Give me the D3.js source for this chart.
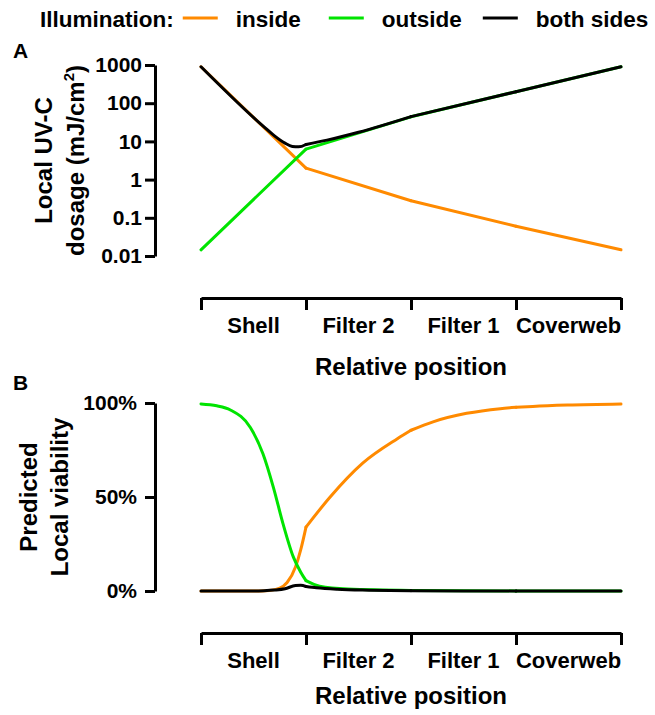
<!DOCTYPE html>
<html>
<head>
<meta charset="utf-8">
<script src="https://cdn.jsdelivr.net/npm/d3@7"></script>
<style>
  html, body { margin: 0; padding: 0; background: #fff; }
  svg { display: block; }
</style>
</head>
<body>
<script>
// ---------------- data ----------------
const categories = ["Shell", "Filter 2", "Filter 1", "Coverweb"];
const boundaryPositions = [0, 1, 2, 3, 4];

const legendTitle = "Illumination:";
const seriesNames = ["inside", "outside", "both sides"];
const seriesColors = ["#ff8a00", "#00e400", "#000000"];

const dosageTicks = [0.01, 0.1, 1, 10, 100, 1000];
const dosageTickLabels = ["0.01", "0.1", "1", "10", "100", "1000"];
const viabilityTicks = [0, 50, 100];
const viabilityTickLabels = ["0%", "50%", "100%"];

// Panel A: local UV-C dosage (mJ/cm2)
const doseInsidePos = [0, 1, 2, 3, 4];
const doseInside = [900, 2.0, 0.28, 0.06, 0.0145];
const doseOutsidePos = [0, 1, 2, 3, 4];
const doseOutside = [0.0145, 6.3, 44, 200, 900];
const doseBothPos = [0, 0.6, 0.7, 0.8, 0.87, 0.93, 1, 1.2, 1.5, 2, 3, 4];
const doseBoth = [900, 24, 14, 9, 7.4, 7.2, 8.3, 10.8, 17.3, 44.5, 200, 900];

// Panel B: predicted local viability (%)
const viaInsidePos = [0, 0.5, 0.65, 0.75, 0.82, 0.9, 0.95, 1, 1.23, 1.54, 1.87, 2, 2.21, 2.53, 2.85, 3, 3.16, 3.49, 4];
const viaInside = [0, 0, 0.3, 1.5, 4.5, 12.8, 22, 34, 50, 68, 81, 85.5, 90, 94.5, 97, 97.7, 98.2, 98.9, 99.5];
const viaOutsidePos = [0, 0.15, 0.28, 0.47, 0.59, 0.69, 0.78, 0.88, 0.95, 1, 1.13, 1.4, 2, 3, 4];
const viaOutside = [99.5, 98.5, 96.3, 87, 73, 55, 36, 18, 10, 5.5, 2.5, 1.0, 0.3, 0.05, 0];
const viaBothPos = [0, 0.5, 0.6, 0.7, 0.8, 0.9, 0.95, 1, 1.1, 1.3, 1.6, 2, 2.5, 3, 4];
const viaBoth = [0, 0, 0.15, 0.5, 1.2, 2.9, 3.0, 2.4, 1.7, 0.9, 0.4, 0.1, 0.02, 0, 0];

// ---------------- drawing ----------------
const W = 655, H = 715;
const FONT = "'Liberation Sans', Arial, Helvetica, sans-serif";

const svg = d3.select("body").append("svg")
  .attr("width", W).attr("height", H)
  .style("background", "#fff")
  .attr("font-family", FONT)
  .attr("font-weight", "bold");

// Legend
(function legend() {
  const g = svg.append("g");
  let x = 40;
  const yText = 27, yLine = 18, fs = 22.5;
  const t0 = g.append("text").attr("x", x).attr("y", yText).attr("font-size", fs).text(legendTitle);
  x += t0.node().getComputedTextLength() + 9;
  const gapsAfter = [28, 21, 0];
  seriesNames.forEach((name, i) => {
    g.append("line").attr("x1", x).attr("x2", x + 35).attr("y1", yLine).attr("y2", yLine)
      .attr("stroke", seriesColors[i]).attr("stroke-width", 3);
    x += 35 + 18;
    const t = g.append("text").attr("x", x).attr("y", yText).attr("font-size", fs).text(name);
    x += t.node().getComputedTextLength() + gapsAfter[i];
  });
})();

function styleAxis(g, fontSize) {
  g.select(".domain").attr("stroke", "#000").attr("stroke-width", 3);
  g.selectAll(".tick line").attr("stroke", "#000").attr("stroke-width", 3);
  g.selectAll(".tick text").attr("fill", "#000").attr("font-size", fontSize)
    .attr("font-family", FONT).attr("font-weight", "bold");
}

// split a series at layer boundaries so kinks stay sharp, smooth inside layers
function pieces(pos, vals) {
  const pts = pos.map((p, i) => [p, vals[i]]);
  const out = [];
  for (let i = 0; i < boundaryPositions.length - 1; i++) {
    const a = boundaryPositions[i], b = boundaryPositions[i + 1];
    const seg = pts.filter(d => d[0] >= a && d[0] <= b);
    if (seg.length > 1) out.push(seg);
  }
  return out;
}

function drawPanel(opts) {
  const { x, y, xAxisY, series, yTicks, yTickLabels, tickPad, titleLines, titleX, labelY, titleY, panelLabel, panelLabelY } = opts;

  // y axis
  const gy = svg.append("g").attr("transform", "translate(155,0)")
    .call(d3.axisLeft(y).tickValues(yTicks).tickFormat((d, i) => yTickLabels[i])
      .tickSize(10).tickSizeOuter(0).tickPadding(tickPad));
  styleAxis(gy, 21);

  // y title (two lines, rotated)
  const yc = (y.range()[0] + y.range()[1]) / 2;
  titleLines.forEach((ln, i) => {
    const t = svg.append("text")
      .attr("transform", `translate(${titleX[i]},${yc}) rotate(-90)`)
      .attr("text-anchor", "middle").attr("font-size", 24);
    ln.forEach(part => {
      if (part.sup) {
        t.append("tspan").attr("font-size", 15).attr("dy", -10).text(part.text);
      } else if (part.after) {
        t.append("tspan").attr("dy", 10).text(part.text);
      } else {
        t.append("tspan").text(part.text);
      }
    });
  });

  // x axis
  const gx = svg.append("g").attr("transform", `translate(0,${xAxisY})`)
    .call(d3.axisBottom(x).tickValues(boundaryPositions).tickFormat("").tickSize(12).tickSizeOuter(0));
  styleAxis(gx, 22);

  categories.forEach((c, i) => {
    svg.append("text").attr("x", x(i + 0.5)).attr("y", labelY)
      .attr("text-anchor", "middle").attr("font-size", 22).text(c);
  });
  svg.append("text").attr("x", (x.range()[0] + x.range()[1]) / 2).attr("y", titleY)
    .attr("text-anchor", "middle").attr("font-size", 24).text("Relative position");

  // panel label
  svg.append("text").attr("x", 13).attr("y", panelLabelY).attr("font-size", 21).text(panelLabel);

  // lines
  const line = d3.line().x(d => x(d[0])).y(d => y(d[1])).curve(d3.curveMonotoneX);
  series.forEach((s, si) => {
    pieces(s.pos, s.vals).forEach(seg => {
      svg.append("path").attr("d", line(seg)).attr("fill", "none")
        .attr("stroke", seriesColors[si]).attr("stroke-width", 3)
        .attr("stroke-linecap", "round").attr("stroke-linejoin", "round");
    });
  });
}

// Panel A
drawPanel({
  x: d3.scaleLinear().domain([0, 4]).range([201, 621]),
  y: d3.scaleLog().domain([0.01, 1000]).range([256, 65]),
  xAxisY: 298,
  series: [
    { pos: doseInsidePos, vals: doseInside },
    { pos: doseOutsidePos, vals: doseOutside },
    { pos: doseBothPos, vals: doseBoth }
  ],
  yTicks: dosageTicks, yTickLabels: dosageTickLabels, tickPad: 3,
  titleLines: [
    [{ text: "Local UV-C" }],
    [{ text: "dosage (mJ/cm" }, { text: "2", sup: true }, { text: ")", after: true }]
  ],
  titleX: [52, 84],
  labelY: 333, titleY: 375,
  panelLabel: "A", panelLabelY: 58
});

// Panel B
drawPanel({
  x: d3.scaleLinear().domain([0, 4]).range([201, 621]),
  y: d3.scaleLinear().domain([0, 100]).range([591, 403]),
  xAxisY: 633,
  series: [
    { pos: viaInsidePos, vals: viaInside },
    { pos: viaOutsidePos, vals: viaOutside },
    { pos: viaBothPos, vals: viaBoth }
  ],
  yTicks: viabilityTicks, yTickLabels: viabilityTickLabels, tickPad: 8,
  titleLines: [
    [{ text: "Predicted" }],
    [{ text: "Local viability" }]
  ],
  titleX: [37, 68],
  labelY: 668, titleY: 704,
  panelLabel: "B", panelLabelY: 390
});
</script>
</body>
</html>
